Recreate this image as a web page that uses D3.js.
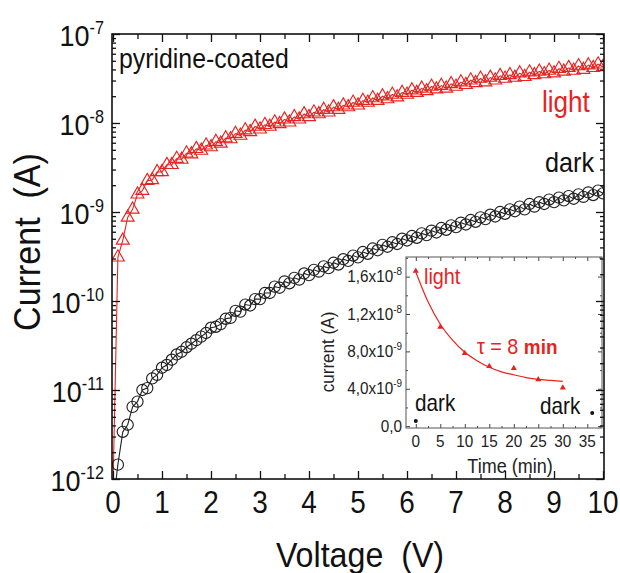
<!DOCTYPE html>
<html><head><meta charset="utf-8">
<script src="https://cdn.jsdelivr.net/npm/d3@7"></script>
<style>
body{margin:0;background:#fff}
svg{display:block}
text{font-family:"Liberation Sans",Arial,Helvetica,sans-serif}
</style>
</head><body>
<svg id="c" width="620" height="573"></svg>
<script>
// ---------- DATA ----------
const voltage = d3.range(0, 101).map(k => k / 10); // sweep grid 0..10 V, 0.1 V step
const lightCurrent = [8e-13,
 3.1e-10,4.8e-10,8.7e-10,1.07e-9,1.58e-9,1.74e-9,2.24e-9,2.29e-9,2.82e-9,2.82e-9,
 3.39e-9,3.39e-9,3.98e-9,3.89e-9,4.57e-9,4.47e-9,5.13e-9,4.90e-9,5.62e-9,5.37e-9,
 6.17e-9,5.89e-9,6.76e-9,6.61e-9,7.59e-9,7.24e-9,8.32e-9,7.94e-9,9.12e-9,8.51e-9,
 9.55e-9,9.12e-9,1.02e-8,9.77e-9,1.10e-8,1.02e-8,1.17e-8,1.10e-8,1.26e-8,1.17e-8,
 1.32e-8,1.26e-8,1.41e-8,1.32e-8,1.51e-8,1.41e-8,1.58e-8,1.51e-8,1.70e-8,1.58e-8,
 1.78e-8,1.70e-8,1.91e-8,1.78e-8,2.00e-8,1.86e-8,2.09e-8,1.95e-8,2.19e-8,2.09e-8,
 2.34e-8,2.19e-8,2.45e-8,2.29e-8,2.57e-8,2.40e-8,2.63e-8,2.45e-8,2.75e-8,2.57e-8,
 2.88e-8,2.69e-8,3.02e-8,2.82e-8,3.16e-8,2.88e-8,3.24e-8,3.02e-8,3.39e-8,3.16e-8,
 3.47e-8,3.24e-8,3.63e-8,3.31e-8,3.72e-8,3.47e-8,3.80e-8,3.55e-8,3.89e-8,3.63e-8,
 4.07e-8,3.80e-8,4.17e-8,3.89e-8,4.37e-8,3.98e-8,4.47e-8,4.17e-8,4.57e-8,4.27e-8];
const darkCurrent = [5e-13,
 1.45e-12,3.39e-12,4.07e-12,6.46e-12,7.41e-12,1.0e-11,1.05e-11,1.35e-11,1.48e-11,1.78e-11,
 1.91e-11,2.19e-11,2.51e-11,2.69e-11,3.02e-11,3.31e-11,3.63e-11,3.98e-11,4.37e-11,5.01e-11,
 5.13e-11,5.50e-11,6.31e-11,6.46e-11,7.76e-11,7.59e-11,9.12e-11,8.91e-11,1.05e-10,1.05e-10,
 1.23e-10,1.23e-10,1.45e-10,1.41e-10,1.66e-10,1.58e-10,1.82e-10,1.74e-10,2.04e-10,1.95e-10,
 2.24e-10,2.14e-10,2.45e-10,2.34e-10,2.69e-10,2.57e-10,2.95e-10,2.82e-10,3.24e-10,3.09e-10,
 3.55e-10,3.39e-10,3.89e-10,3.72e-10,4.27e-10,4.07e-10,4.57e-10,4.37e-10,5.01e-10,4.79e-10,
 5.37e-10,5.13e-10,5.75e-10,5.50e-10,6.17e-10,5.89e-10,6.61e-10,6.31e-10,7.08e-10,6.76e-10,
 7.59e-10,7.24e-10,8.13e-10,7.76e-10,8.71e-10,8.32e-10,9.33e-10,8.91e-10,1.0e-9,9.55e-10,
 1.07e-9,1.02e-9,1.15e-9,1.07e-9,1.23e-9,1.15e-9,1.29e-9,1.23e-9,1.38e-9,1.29e-9,
 1.45e-9,1.35e-9,1.51e-9,1.41e-9,1.58e-9,1.48e-9,1.66e-9,1.55e-9,1.74e-9,1.62e-9];

const voltTicks = [0,1,2,3,4,5,6,7,8,9,10];
const voltMinorTicks = [0.5,1.5,2.5,3.5,4.5,5.5,6.5,7.5,8.5,9.5];
const decadeExponents = [-12,-11,-10,-9,-8,-7];
const minorMantissas = [2,3,4,5,6,7,8,9];

// inset
const insetTime = [0,5,10,15,20,25,30];
const insetLight = [16.6e-9,10.6e-9,7.8e-9,6.4e-9,6.2e-9,5.0e-9,4.1e-9];
const fitTime = [0,2.5,5,7.5,10,12.5,15,17.5,20,22.5,25,27.5,30];
const fitCurrent = [16.5e-9,13.3e-9,10.9e-9,9.2e-9,7.9e-9,7.0e-9,6.3e-9,5.8e-9,5.5e-9,5.2e-9,5.0e-9,4.9e-9,4.8e-9];
const insetDarkTime = [0,36];
const insetDark = [0.55e-9,1.4e-9];
const insetXTicks = [0,5,10,15,20,25,30,35];
const insetXMinor = [2.5,7.5,12.5,17.5,22.5,27.5,32.5,37.5];
const insetYTicks = [0,4e-9,8e-9,1.2e-8,1.6e-8];
const insetYMinor = [2e-9,6e-9,1e-8,1.4e-8,1.8e-8];
const insetYMant = ["0,0","4,0x10","8,0x10","1,2x10","1,6x10"];
const insetYExp = ["","-9","-9","-8","-8"];

// ---------- DRAW ----------
const RED = "#e8231f";
const INK = "#111";
const svg = d3.select("#c");
const X0 = 112, X1 = 604, Y0 = 34, Y1 = 479;
const x = d3.scaleLinear().domain([-0.02, 10.02]).range([X0, X1]);
const y = d3.scaleLog().domain([1e-12, 1e-7]).range([Y1, Y0]);

// text helper with slight horizontal condensation (narrow sans look)
function label(parent, px, py, size, anchor, sx, color){
  return parent.append("text")
    .attr("transform", `translate(${px},${py}) scale(${sx},1)`)
    .attr("text-anchor", anchor).attr("font-size", size).attr("fill", color || INK);
}

svg.append("defs").append("clipPath").attr("id","clip")
  .append("rect").attr("x",X0).attr("y",Y0).attr("width",X1-X0).attr("height",Y1-Y0);

const plot = svg.append("g").attr("clip-path","url(#clip)");
const lightPts = voltage.map((v,i)=>({v, c: lightCurrent[i]}));
const darkPts = voltage.map((v,i)=>({v, c: darkCurrent[i]}));
const line = d3.line().x(d=>x(d.v)).y(d=>y(d.c));

plot.append("path").datum(lightPts).attr("d",line).attr("fill","none").attr("stroke",RED).attr("stroke-width",1.1);
plot.append("path").datum(darkPts).attr("d",line).attr("fill","none").attr("stroke","#222").attr("stroke-width",1.1);

const tri = d3.symbol(d3.symbolTriangle, 72);
plot.selectAll("path.tri").data(lightPts.slice(1)).join("path").attr("class","tri")
  .attr("d",tri).attr("transform",d=>`translate(${x(d.v)},${y(d.c)})`)
  .attr("fill","none").attr("stroke",RED).attr("stroke-width",1.15);
plot.selectAll("circle.dk").data(darkPts.slice(1)).join("circle").attr("class","dk")
  .attr("cx",d=>x(d.v)).attr("cy",d=>y(d.c)).attr("r",5.6)
  .attr("fill","none").attr("stroke","#222").attr("stroke-width",1.15);

// ---------- INSET ----------
const IX0 = 406, IX1 = 602, IY0 = 257, IY1 = 428;
const ix = d3.scaleLinear().domain([-2, 38]).range([IX0, IX1]);
const iy = d3.scaleLinear().domain([-0.2e-9, 18.1e-9]).range([IY1, IY0]);
const inset = svg.append("g");
inset.append("rect").attr("x",IX0).attr("y",IY0).attr("width",IX1-IX0).attr("height",IY1-IY0)
  .attr("fill","#fff");
function ticks(g, axis){ g.call(axis); g.select(".domain").remove(); g.selectAll("line").attr("stroke","#444"); g.selectAll("text").remove(); }
inset.append("g").attr("transform",`translate(0,${IY1})`).call(g=>ticks(g,d3.axisBottom(ix).tickValues(insetXTicks).tickSize(-4)));
inset.append("g").attr("transform",`translate(0,${IY1})`).call(g=>ticks(g,d3.axisBottom(ix).tickValues(insetXMinor).tickSize(-2)));
inset.append("g").attr("transform",`translate(0,${IY0})`).call(g=>ticks(g,d3.axisTop(ix).tickValues(insetXTicks).tickSize(-4)));
inset.append("g").attr("transform",`translate(0,${IY0})`).call(g=>ticks(g,d3.axisTop(ix).tickValues(insetXMinor).tickSize(-2)));
inset.append("g").attr("transform",`translate(${IX0},0)`).call(g=>ticks(g,d3.axisLeft(iy).tickValues(insetYTicks).tickSize(-4)));
inset.append("g").attr("transform",`translate(${IX0},0)`).call(g=>ticks(g,d3.axisLeft(iy).tickValues(insetYMinor).tickSize(-2)));
inset.append("g").attr("transform",`translate(${IX1},0)`).call(g=>ticks(g,d3.axisRight(iy).tickValues(insetYTicks).tickSize(-4)));
inset.append("g").attr("transform",`translate(${IX1},0)`).call(g=>ticks(g,d3.axisRight(iy).tickValues(insetYMinor).tickSize(-2)));
inset.append("rect").attr("x",IX0).attr("y",IY0).attr("width",IX1-IX0).attr("height",IY1-IY0)
  .attr("fill","none").attr("stroke","#555").attr("stroke-width",1);

const fitPts = fitTime.map((t,i)=>({t, c: fitCurrent[i]}));
inset.append("path").datum(fitPts)
  .attr("d", d3.line().x(d=>ix(d.t)).y(d=>iy(d.c)).curve(d3.curveMonotoneX))
  .attr("fill","none").attr("stroke",RED).attr("stroke-width",1.2);
inset.selectAll("path.itri").data(insetTime.map((t,i)=>({t,c:insetLight[i]}))).join("path").attr("class","itri")
  .attr("d", d3.symbol(d3.symbolTriangle, 16)).attr("transform",d=>`translate(${ix(d.t)},${iy(d.c)})`)
  .attr("fill",RED);
inset.selectAll("circle.idk").data(insetDarkTime.map((t,i)=>({t,c:insetDark[i]}))).join("circle").attr("class","idk")
  .attr("cx",d=>ix(d.t)).attr("cy",d=>iy(d.c)).attr("r",2).attr("fill","#111");

// inset labels
insetXTicks.forEach(t=>{
  label(inset, ix(t), 447, 17, "middle", 0.9, "#222").text(t);
});
insetYTicks.forEach((v,i)=>{
  const tx = label(inset, 402, iy(v)+5.5, 17, "end", 0.9, "#222");
  tx.append("tspan").text(insetYMant[i]);
  if (insetYExp[i]) tx.append("tspan").attr("font-size",11).attr("dy",-7).text(insetYExp[i]);
});
label(inset, 510, 473, 20, "middle", 0.9, "#222").text("Time (min)");
inset.append("text").attr("transform","translate(334,352) rotate(-90) scale(0.9,1)").attr("text-anchor","middle")
  .attr("font-size",19).attr("fill","#222").text("current (A)");
label(inset, 424, 284, 22, "start", 0.9, RED).text("light");
const tau = label(inset, 477, 354, 22, "start", 0.9, RED);
tau.append("tspan").text("τ = 8 ");
tau.append("tspan").attr("font-weight","bold").attr("font-size",21).text("min");
label(inset, 415, 411, 23, "start", 0.9, INK).text("dark");
label(inset, 540, 414, 23, "start", 0.9, INK).text("dark");

// ---------- MAIN AXES ----------
const axG = svg.append("g");
function mticks(g, axis){ g.call(axis); g.select(".domain").remove(); g.selectAll("line").attr("stroke",INK).attr("stroke-width",1.3); g.selectAll("text").remove(); }
const minorLog = [];
decadeExponents.slice(0,-1).forEach(e=>minorMantissas.forEach(m=>minorLog.push(m*Math.pow(10,e))));
const decades = decadeExponents.map(e=>Math.pow(10,e));
axG.append("g").attr("transform",`translate(0,${Y1})`).call(g=>mticks(g,d3.axisBottom(x).tickValues(voltTicks).tickSize(-8)));
axG.append("g").attr("transform",`translate(0,${Y1})`).call(g=>mticks(g,d3.axisBottom(x).tickValues(voltMinorTicks).tickSize(-5)));
axG.append("g").attr("transform",`translate(0,${Y0})`).call(g=>mticks(g,d3.axisTop(x).tickValues(voltTicks).tickSize(-8)));
axG.append("g").attr("transform",`translate(0,${Y0})`).call(g=>mticks(g,d3.axisTop(x).tickValues(voltMinorTicks).tickSize(-5)));
axG.append("g").attr("transform",`translate(${X0},0)`).call(g=>mticks(g,d3.axisLeft(y).tickValues(decades).tickSize(-8)));
axG.append("g").attr("transform",`translate(${X0},0)`).call(g=>mticks(g,d3.axisLeft(y).tickValues(minorLog).tickSize(-4)));
axG.append("g").attr("transform",`translate(${X1},0)`).call(g=>mticks(g,d3.axisRight(y).tickValues(decades).tickSize(-8)));
axG.append("g").attr("transform",`translate(${X1},0)`).call(g=>mticks(g,d3.axisRight(y).tickValues(minorLog).tickSize(-4)));
axG.append("rect").attr("x",X0).attr("y",Y0).attr("width",X1-X0).attr("height",Y1-Y0)
  .attr("fill","none").attr("stroke",INK).attr("stroke-width",1.6);

voltTicks.forEach(v=>{
  label(axG, x(v), 513, 31, "middle", 0.9).text(v);
});
decadeExponents.forEach(e=>{
  const t = label(axG, 104, y(Math.pow(10,e))+12, 30, "end", 0.9);
  t.append("tspan").text("10");
  t.append("tspan").attr("font-size",18).attr("dy",-12).text("-"+Math.abs(e));
});

svg.append("text").attr("transform","translate(40,242) rotate(-90) scale(0.92,1)").attr("text-anchor","middle")
  .attr("font-size",37).attr("fill",INK).style("white-space","pre").text("Current  (A)");
label(svg, 360, 567, 35, "middle", 0.92).style("white-space","pre").text("Voltage  (V)");
label(svg, 119, 68, 27, "start", 0.92).text("pyridine-coated");
label(svg, 542, 112, 29, "start", 0.9, RED).text("light");
label(svg, 545, 172, 28, "start", 0.9).text("dark");
</script>
</body></html>
